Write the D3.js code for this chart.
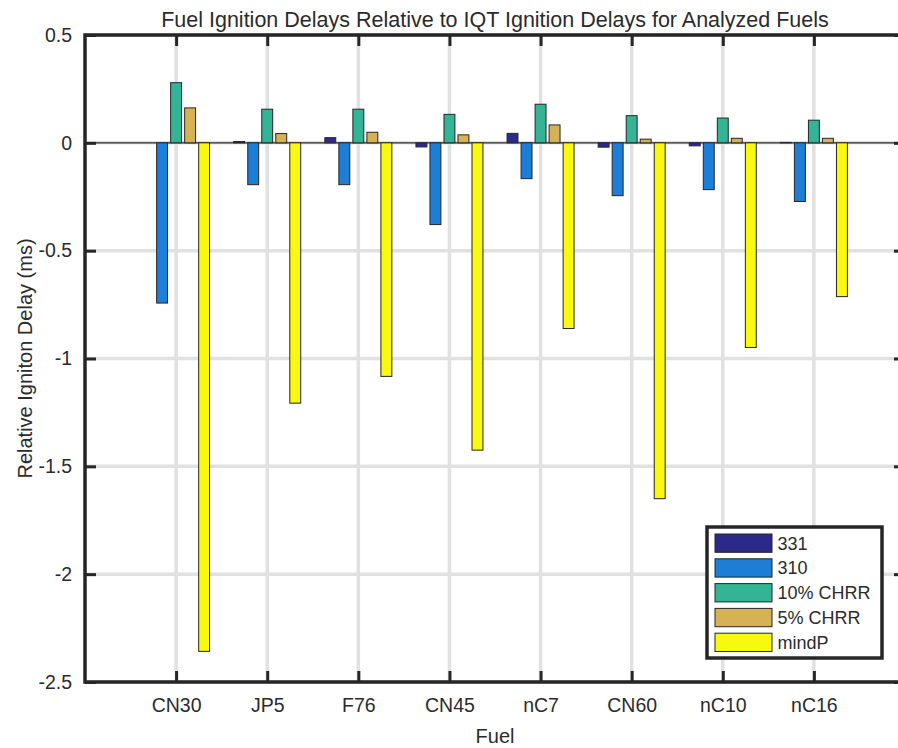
<!DOCTYPE html>
<html>
<head>
<meta charset="utf-8">
<script src="https://cdn.jsdelivr.net/npm/d3@7"></script>
<style>
  html, body { margin: 0; padding: 0; background: #fff; }
  svg { display: block; }
  text { font-family: "Liberation Sans", Arial, Helvetica, sans-serif; fill: #2b2b2b; }
</style>
</head>
<body>
<svg id="chart" width="898" height="748"></svg>
<script>
const categories = ["CN30", "JP5", "F76", "CN45", "nC7", "CN60", "nC10", "nC16"];
const seriesNames = ["331", "310", "10% CHRR", "5% CHRR", "mindP"];
const s331   = [0.000, 0.006, 0.024, -0.019, 0.044, -0.020, -0.014, 0.002];
const s310   = [-0.743, -0.194, -0.194, -0.379, -0.166, -0.245, -0.217, -0.272];
const chrr10 = [0.279, 0.156, 0.156, 0.132, 0.179, 0.126, 0.115, 0.105];
const chrr5  = [0.162, 0.043, 0.049, 0.037, 0.083, 0.017, 0.021, 0.021];
const mindP  = [-2.358, -1.207, -1.083, -1.425, -0.861, -1.650, -0.949, -0.713];
const yTicks = [0.5, 0, -0.5, -1, -1.5, -2, -2.5];
const colors = ["#2b2a8a", "#1c7ed6", "#33b495", "#d6b257", "#f9f80f"];

const seriesValues = [s331, s310, chrr10, chrr5, mindP];

const svg = d3.select("#chart");
const L = 85, R = 905, T = 35, B = 682;

const x = d3.scaleLinear().domain([0, categories.length + 1]).range([L, R]);
const y = d3.scaleLinear().domain([-2.5, 0.5]).range([B, T]);

const nS = seriesNames.length;
const groupW = Math.min(0.8, nS / (nS + 1.5));
const step = groupW / nS;
const barW = 0.12;

// gridlines
const grid = svg.append("g");
grid.selectAll("line.gx").data(categories).enter().append("line")
  .attr("x1", (d, i) => x(i + 1)).attr("x2", (d, i) => x(i + 1))
  .attr("y1", T).attr("y2", B)
  .attr("stroke", "#e1e1e1").attr("stroke-width", 3.5);
grid.selectAll("line.gy").data(yTicks).enter().append("line")
  .attr("x1", L).attr("x2", R)
  .attr("y1", d => y(d)).attr("y2", d => y(d))
  .attr("stroke", "#e1e1e1").attr("stroke-width", 3.5);

// baseline
svg.append("line")
  .attr("x1", L).attr("x2", R).attr("y1", y(0)).attr("y2", y(0))
  .attr("stroke", "#2b2b2b").attr("stroke-width", 1.2);

// bars
seriesValues.forEach((vals, s) => {
  const off = (s - (nS - 1) / 2) * step;
  svg.append("g").selectAll("rect").data(vals).enter().append("rect")
    .attr("x", (d, i) => x(i + 1 + off - barW / 2))
    .attr("width", x(barW) - x(0))
    .attr("y", d => y(Math.max(0, d)))
    .attr("height", d => Math.abs(y(d) - y(0)))
    .attr("fill", colors[s])
    .attr("stroke", "#262626").attr("stroke-width", 1);
});

// axes
const yAxis = d3.axisLeft(y).tickValues(yTicks).tickFormat(d => String(d))
  .tickSizeInner(-11).tickSizeOuter(0).tickPadding(13);
const gy = svg.append("g").attr("transform", `translate(${L},0)`).call(yAxis);
const xAxis = d3.axisBottom(x).tickValues(categories.map((c, i) => i + 1))
  .tickFormat((d, i) => categories[i]).tickSizeInner(-11).tickSizeOuter(0).tickPadding(16);
const gx = svg.append("g").attr("transform", `translate(0,${B})`).call(xAxis);
// top and right ticks
const yAxisR = d3.axisRight(y).tickValues(yTicks).tickFormat("").tickSizeInner(-11).tickSizeOuter(0);
const gyr = svg.append("g").attr("transform", `translate(${R},0)`).call(yAxisR);
const xAxisT = d3.axisTop(x).tickValues(categories.map((c, i) => i + 1)).tickFormat("")
  .tickSizeInner(-11).tickSizeOuter(0);
const gxt = svg.append("g").attr("transform", `translate(0,${T})`).call(xAxisT);

[gy, gx, gyr, gxt].forEach(g => {
  g.select(".domain").remove();
  g.selectAll(".tick line").attr("stroke", "#262626").attr("stroke-width", 3);
  g.selectAll(".tick text").attr("font-size", 19.5).attr("fill", "#2b2b2b")
    .style("font-family", '"Liberation Sans", Arial, Helvetica, sans-serif');
});

// frame
svg.append("rect").attr("x", L).attr("y", T).attr("width", R - L).attr("height", B - T)
  .attr("fill", "none").attr("stroke", "#262626").attr("stroke-width", 3.5);

// title & labels
svg.append("text").attr("x", (L + R) / 2).attr("y", 26.5).attr("text-anchor", "middle")
  .attr("font-size", 21.5).text("Fuel Ignition Delays Relative to IQT Ignition Delays for Analyzed Fuels");
svg.append("text").attr("x", (L + R) / 2).attr("y", 743).attr("text-anchor", "middle")
  .attr("font-size", 20).text("Fuel");
svg.append("text").attr("transform", `translate(32,${(T + B) / 2}) rotate(-90)`)
  .attr("text-anchor", "middle").attr("font-size", 20).text("Relative Igniton Delay (ms)");

// legend
const lg = svg.append("g");
lg.append("rect").attr("x", 707).attr("y", 527).attr("width", 175).attr("height", 131)
  .attr("fill", "#fff").attr("stroke", "#262626").attr("stroke-width", 3.5);
seriesNames.forEach((name, i) => {
  const yy = 534 + i * 24.8;
  lg.append("rect").attr("x", 715).attr("y", yy).attr("width", 57).attr("height", 18.3)
    .attr("fill", colors[i]).attr("stroke", "#262626").attr("stroke-width", 1);
  lg.append("text").attr("x", 777.5).attr("y", yy + 9.3).attr("dy", "0.35em")
    .attr("font-size", 18).text(name);
});
</script>
</body>
</html>
